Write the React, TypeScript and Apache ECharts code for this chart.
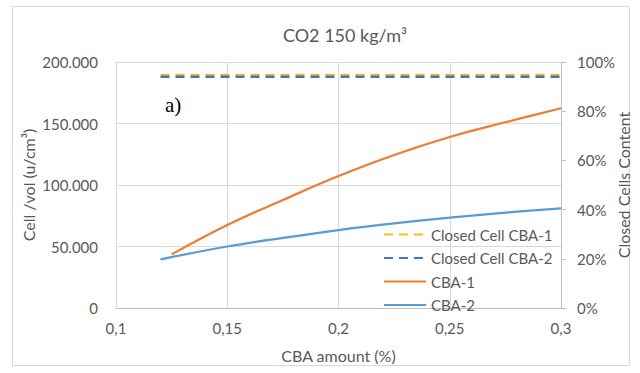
import React, { useEffect, useRef } from "react";
import * as echarts from "echarts";

const cba1X = [0.125, 0.15, 0.175, 0.2, 0.225, 0.25, 0.275, 0.3];
const cba1Y = [43600, 67500, 87800, 107300, 124400, 139000, 151000, 162400];
const cba2X = [0.12, 0.15, 0.175, 0.2, 0.225, 0.25, 0.275, 0.3];
const cba2Y = [39600, 50000, 57000, 63400, 68800, 73500, 77500, 81000];
const closedX = [0.12, 0.3];
const closed1 = [94.7, 94.7];
const closed2 = [94.0, 94.0];
const xTicks = { min: 0.1, max: 0.3, interval: 0.05 };

const FONT = "Lato";
const TXT = "#595959";

const pair = (xs: number[], ys: number[]) => xs.map((x, i) => [x, ys[i]]);

export default function App() {
  const ref = useRef<HTMLDivElement>(null);
  useEffect(() => {
    if (!ref.current) return;
    const chart = echarts.init(ref.current, undefined, { renderer: "svg" });
    chart.setOption({
      animation: false,
      backgroundColor: "#fff",
      textStyle: { fontFamily: FONT, color: TXT },
      grid: {
        left: 116,
        right: 79,
        top: 62,
        bottom: 65,
        containLabel: false,
        outerBoundsMode: "none",
      },
      graphic: [
        {
          type: "rect",
          shape: { x: 12.5, y: 6.5, width: 617, height: 359 },
          style: { fill: "none", stroke: "#d9d9d9", lineWidth: 1 },
          silent: true,
        },
        {
          type: "text",
          x: 345,
          y: 35,
          style: {
            text: "CO2 150 kg/m³",
            fontFamily: FONT,
            fontSize: 18,
            fill: TXT,
            align: "center",
            verticalAlign: "middle",
          },
        },
        {
          type: "text",
          x: 165,
          y: 105,
          style: {
            text: "a)",
            fontFamily: "Liberation Serif",
            fontSize: 21,
            fill: "#000",
            align: "left",
            verticalAlign: "middle",
          },
        },
      ],
      legend: {
        orient: "vertical",
        left: 383,
        top: 227,
        itemWidth: 42,
        itemHeight: 14,
        itemGap: 8.5,
        padding: 0,
        itemStyle: { opacity: 0 },
        textStyle: { fontFamily: FONT, fontSize: 15, color: TXT },
        data: ["Closed Cell CBA-1", "Closed Cell CBA-2", "CBA-1", "CBA-2"],
      },
      xAxis: {
        type: "value",
        min: xTicks.min,
        max: xTicks.max,
        interval: xTicks.interval,
        name: "CBA amount (%)",
        nameLocation: "middle",
        nameGap: 39,
        nameMoveOverlap: false,
        nameTextStyle: { fontFamily: FONT, fontSize: 16, color: TXT },
        axisLine: { show: true, lineStyle: { color: "#bfbfbf", width: 1 } },
        axisTick: { show: false },
        splitLine: { show: true, lineStyle: { color: "#d9d9d9", width: 1 } },
        axisLabel: {
          fontFamily: FONT,
          fontSize: 15,
          color: TXT,
          margin: 12,
          formatter: (v: number) => String(Math.round(v * 100) / 100).replace(".", ","),
        },
      },
      yAxis: [
        {
          type: "value",
          min: 0,
          max: 200000,
          interval: 50000,
          name: "Cell /vol (u/cm³)",
          nameLocation: "middle",
          nameGap: 80,
          nameMoveOverlap: false,
          nameTextStyle: { fontFamily: FONT, fontSize: 16, color: TXT },
          axisLine: { show: false },
          axisTick: { show: false },
          splitLine: { show: true, lineStyle: { color: "#d9d9d9", width: 1 } },
          axisLabel: {
            fontFamily: FONT,
            fontSize: 15,
            color: TXT,
            margin: 18,
            formatter: (v: number) => (v === 0 ? "0" : (v / 1000).toFixed(0) + ".000"),
          },
        },
        {
          type: "value",
          min: 0,
          max: 100,
          interval: 20,
          position: "right",
          name: "Closed Cells Content",
          nameLocation: "middle",
          nameGap: 54,
          nameMoveOverlap: false,
          nameRotate: 90,
          nameTextStyle: { fontFamily: FONT, fontSize: 16, color: TXT },
          axisLine: { show: true, lineStyle: { color: "#bfbfbf", width: 1 } },
          axisTick: { show: true, inside: false, length: 5, lineStyle: { color: "#bfbfbf" } },
          splitLine: { show: false },
          axisLabel: {
            fontFamily: FONT,
            fontSize: 15,
            color: TXT,
            margin: 16,
            formatter: "{value}%",
          },
        },
      ],
      series: [
        {
          name: "Closed Cell CBA-1",
          type: "line",
          yAxisIndex: 1,
          data: pair(closedX, closed1),
          symbol: "none",
          lineStyle: { color: "#FFC000", width: 2.5, type: [9, 6] },
          itemStyle: { color: "#FFC000" },
        },
        {
          name: "Closed Cell CBA-2",
          type: "line",
          yAxisIndex: 1,
          data: pair(closedX, closed2),
          symbol: "none",
          lineStyle: { color: "#4472C4", width: 2.5, type: [9, 6] },
          itemStyle: { color: "#4472C4" },
        },
        {
          name: "CBA-1",
          type: "line",
          data: pair(cba1X, cba1Y),
          symbol: "none",
          smooth: 0.4,
          lineStyle: { color: "#ED7D31", width: 2.25 },
          itemStyle: { color: "#ED7D31" },
        },
        {
          name: "CBA-2",
          type: "line",
          data: pair(cba2X, cba2Y),
          symbol: "none",
          smooth: 0.4,
          lineStyle: { color: "#5B9BD5", width: 2.25 },
          itemStyle: { color: "#5B9BD5" },
        },
      ],
    });
    return () => chart.dispose();
  }, []);
  return (
    <div
      ref={ref}
      style={{ position: "fixed", left: 0, top: 0, width: 640, height: 373 }}
    />
  );
}
